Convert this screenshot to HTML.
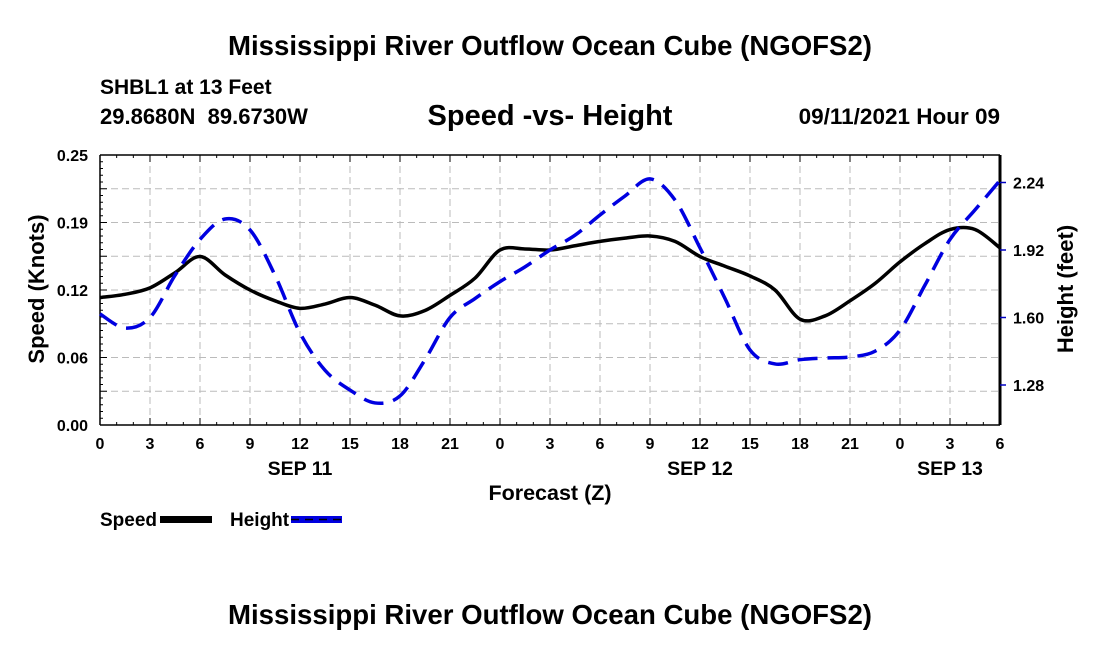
<!DOCTYPE html>
<html><head><meta charset="utf-8"><style>
html,body{margin:0;padding:0;background:#fff;}
svg{display:block;font-family:"Liberation Sans",Arial,sans-serif;font-weight:bold;}
</style></head><body>
<svg id="chart" width="1100" height="650" viewBox="0 0 1100 650">
<text x="550" y="55" font-size="27.6" text-anchor="middle">Mississippi River Outflow Ocean Cube (NGOFS2)</text>
<text x="100" y="94" font-size="21">SHBL1 at 13 Feet</text>
<text x="100" y="124" font-size="22" xml:space="preserve">29.8680N  89.6730W</text>
<text x="550" y="125" font-size="29" text-anchor="middle">Speed -vs- Height</text>
<text x="1000" y="124" font-size="22.5" text-anchor="end">09/11/2021 Hour 09</text>
<g id="grid"></g>
<g id="axes"></g>
<g id="series"></g>
<text transform="translate(44,289) rotate(-90)" font-size="22" text-anchor="middle">Speed (Knots)</text>
<text transform="translate(1073,289) rotate(-90)" font-size="22" text-anchor="middle">Height (feet)</text>
<text x="550" y="500" font-size="21.5" text-anchor="middle">Forecast (Z)</text>
<g>
<text x="100" y="526" font-size="19">Speed</text>
<rect x="160" y="516" width="52" height="7" fill="#000"/>
<text x="230" y="526" font-size="19">Height</text>
<rect x="291" y="516" width="51" height="7" fill="#0000e0"/>
<line x1="291" y1="519.5" x2="342" y2="519.5" stroke="#000" stroke-width="1.5" stroke-dasharray="8 6"/>
</g>
<text x="550" y="624" font-size="27.6" text-anchor="middle">Mississippi River Outflow Ocean Cube (NGOFS2)</text>
</svg>
<script>
const hours = [0,1.5,3,4.5,6,7.5,9,10.5,12,13.5,15,16.5,18,19.5,21,22.5,24,25.5,27,28.5,30,31.5,33,34.5,36,37.5,39,40.5,42,43.5,45,46.5,48,49.5,51,52.5,54];
const speed = [0.118,0.121,0.127,0.141,0.156,0.139,0.125,0.115,0.108,0.112,0.118,0.111,0.101,0.106,0.120,0.136,0.162,0.163,0.162,0.166,0.170,0.173,0.175,0.170,0.156,0.147,0.138,0.125,0.098,0.101,0.115,0.131,0.151,0.168,0.181,0.181,0.164];
const height = [1.617,1.55,1.60,1.80,1.97,2.067,2.015,1.80,1.527,1.35,1.256,1.195,1.228,1.40,1.60,1.69,1.77,1.84,1.92,1.99,2.086,2.176,2.257,2.157,1.93,1.69,1.446,1.38,1.40,1.408,1.413,1.44,1.54,1.754,1.97,2.11,2.25];
const xTickLabels = ["0","3","6","9","12","15","18","21","0","3","6","9","12","15","18","21","0","3","6"];
const dayLabels = ["SEP 11","SEP 12","SEP 13"];
const dayHours = [12,36,51];
const yTicks = [0,0.0625,0.125,0.1875,0.25];
const yTickLabels = ["0.00","0.06","0.12","0.19","0.25"];
const y2Ticks = [1.28,1.60,1.92,2.24];
const y2TickLabels = ["1.28","1.60","1.92","2.24"];

const L=100,R=1000,T=155,B=425;
const xs=h=>L+h*(R-L)/54;
const ys=v=>B-v*(B-T)/0.25;
const y2s=v=>385-(v-1.28)*(67.5/0.32);
const NS="http://www.w3.org/2000/svg";
function mk(parent,tag,attrs){const e=document.createElementNS(NS,tag);for(const k in attrs)e.setAttribute(k,attrs[k]);document.getElementById(parent).appendChild(e);return e;}

for(let i=1;i<8;i++){
  const y=T+i*(B-T)/8;
  const g=mk('grid','line',{x1:L,x2:R,y1:y,y2:y,stroke:'#bbb','stroke-width':1,'stroke-dasharray':'7 4'});
  
  
}
for(let i=1;i<18;i++){
  const x=xs(i*3);
  const g=mk('grid','line',{x1:x,x2:x,y1:T,y2:B,stroke:'#bbb','stroke-width':1,'stroke-dasharray':'7 4'});
  
  
}
let f=mk('axes','line',{x1:L,x2:R,y1:T,y2:T,stroke:'#000','stroke-width':1.5});

f=mk('axes','line',{x1:L,x2:R,y1:B,y2:B,stroke:'#000','stroke-width':1.5});

f=mk('axes','line',{x1:L,x2:L,y1:T,y2:B,stroke:'#000','stroke-width':1.5});

f=mk('axes','line',{x1:R,x2:R,y1:T,y2:B,stroke:'#000','stroke-width':3});

for(let h=0;h<=54;h++){
  const x=xs(h),len=(h%3==0)?7:3;
  const t1=mk('axes','line',{x1:x,x2:x,y1:B,y2:B-len,stroke:'#000','stroke-width':1});
  
  const t2=mk('axes','line',{x1:x,x2:x,y1:T,y2:T+len,stroke:'#000','stroke-width':1});
  
}
xTickLabels.forEach((s,i)=>{
  const t=mk('axes','text',{x:xs(i*3),y:B+24,'font-size':16,'text-anchor':'middle'});t.textContent=s;
  
});
dayLabels.forEach((s,i)=>{
  const t=mk('axes','text',{x:xs(dayHours[i]),y:B+50,'font-size':19.5,'text-anchor':'middle'});t.textContent=s;
  
});
for(let i=0;i<=40;i++){
  const y=T+i*(B-T)/40,len=(i%5==0)?7:3;
  const t=mk('axes','line',{x1:L,x2:L+len,y1:y,y2:y,stroke:'#000','stroke-width':1});
  
}
yTicks.forEach((v,i)=>{
  const t=mk('axes','text',{x:L-12,y:ys(v)+6,'font-size':16,'text-anchor':'end'});t.textContent=yTickLabels[i];
  
});
y2Ticks.forEach((v,i)=>{
  const y=y2s(v);
  const l=mk('axes','line',{x1:R,x2:R+6,y1:y,y2:y,stroke:'#0000c0','stroke-width':1.5});
  
  const t=mk('axes','text',{x:R+13,y:y+6,'font-size':16});t.textContent=y2TickLabels[i];
  
});
function smooth(pts){
  let d='M'+pts[0][0]+','+pts[0][1];
  for(let i=0;i<pts.length-1;i++){
    const p0=pts[Math.max(0,i-1)],p1=pts[i],p2=pts[i+1],p3=pts[Math.min(pts.length-1,i+2)];
    const c1=[p1[0]+(p2[0]-p0[0])/6,p1[1]+(p2[1]-p0[1])/6],c2=[p2[0]-(p3[0]-p1[0])/6,p2[1]-(p3[1]-p1[1])/6];
    d+=' C'+c1[0]+','+c1[1]+' '+c2[0]+','+c2[1]+' '+p2[0]+','+p2[1];
  }
  return d;
}
const sp=mk('series','path',{d:smooth(hours.map((h,i)=>[xs(h),ys(speed[i])])),fill:'none',stroke:'#000','stroke-width':3.5});

const hp=mk('series','path',{d:smooth(hours.map((h,i)=>[xs(h),y2s(height[i])])),fill:'none',stroke:'#0000e0','stroke-width':3.5,'stroke-dasharray':'20 10'});

</script>
</body></html>
